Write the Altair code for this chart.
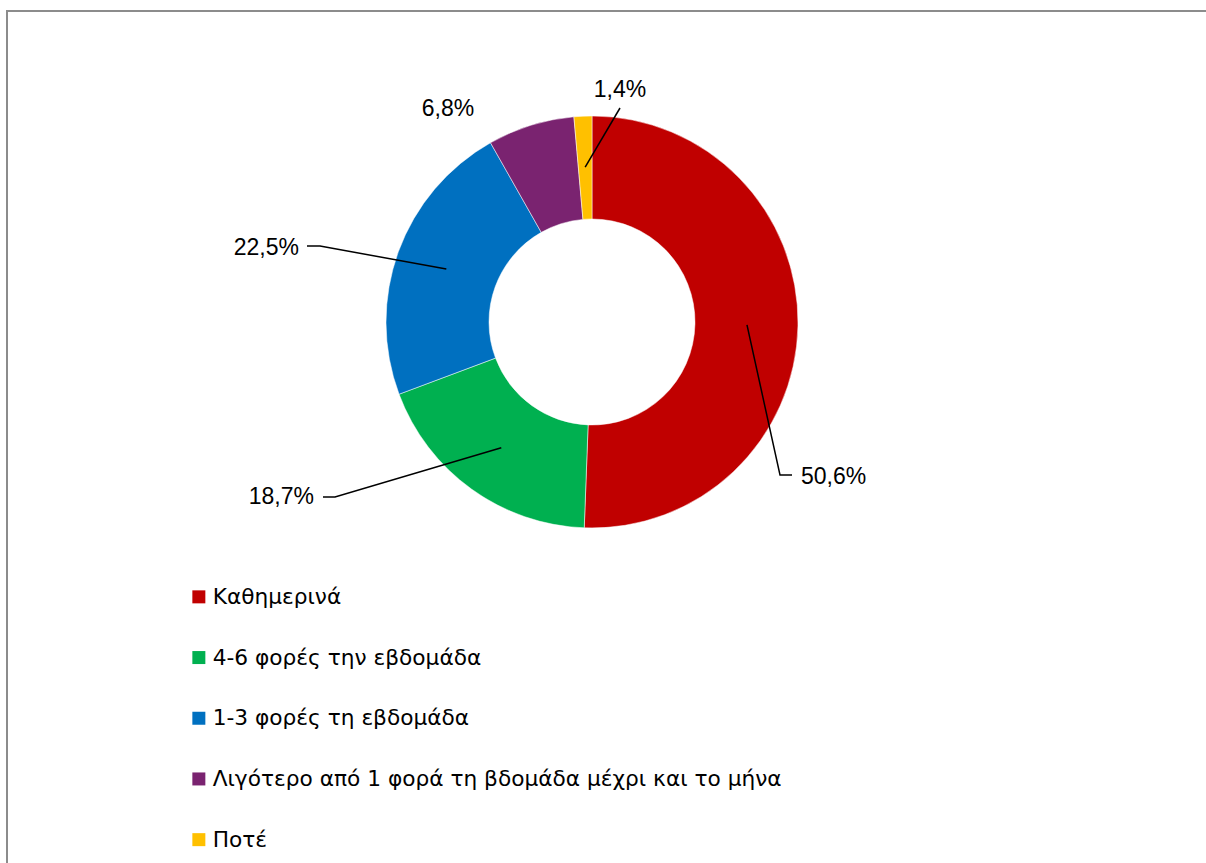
import altair as alt
import pandas as pd
import numpy as np

# ---- data ----
categories = ["Καθημερινά", "4-6 φορές την εβδομάδα", "1-3 φορές τη εβδομάδα",
              "Λιγότερο από 1 φορά τη βδομάδα μέχρι και το μήνα", "Ποτέ"]
values = [50.6, 18.7, 22.5, 6.8, 1.4]
colors = ["#C00000", "#00B050", "#0070C0", "#7A2370", "#FFC000"]

# ---- layout ----
FONT = "Liberation Sans"
LEGEND_FONT = "DejaVu Sans"
CX, CY = 592, 322
R_OUT, R_IN = 206, 103
R_LEADER = 155
label_x = [801, 314, 299, 448, 620]
label_y = [477, 497, 248, 109, 90]
label_align = ["left", "right", "right", "center", "center"]
leader_elbow = [(780, 475), (335, 497), (320, 246), None, None]
leader_end = [(792, 475), (323, 497), (307, 246), None, (620, 108)]

df = pd.DataFrame({"cat": categories, "value": values, "idx": list(range(len(values)))})
df["label"] = [f"{v:.1f}%".replace(".", ",") for v in values]
df["lx"] = label_x
df["ly"] = label_y
df["align"] = label_align

# leader lines: inner point from slice mid-angle
total = sum(values)
cum = np.cumsum([0] + values[:-1])
rows = []
for i, (c, v) in enumerate(zip(categories, values)):
    if leader_end[i] is None:
        continue
    a = 2 * np.pi * (cum[i] + v / 2) / total
    pts = [(CX + R_LEADER * np.sin(a), CY - R_LEADER * np.cos(a))]
    if leader_elbow[i] is not None:
        pts.append(leader_elbow[i])
    pts.append(leader_end[i])
    for s, (x, y) in enumerate(pts):
        rows.append({"cat": c, "seq": s, "px": x, "py": y})
lead = pd.DataFrame(rows)

border = alt.Chart(pd.DataFrame({"a": [0]})).mark_rect(
    filled=False, stroke="#8c8c8c", strokeWidth=2
).encode(x=alt.value(7), y=alt.value(11), x2=alt.value(1300), y2=alt.value(1000))

arc = alt.Chart(df).mark_arc(
    innerRadius=R_IN, outerRadius=R_OUT, stroke="#ffffff", strokeWidth=0.5
).encode(
    theta=alt.Theta("value:Q", stack=True),
    order=alt.Order("idx:Q"),
    color=alt.Color(
        "cat:N",
        scale=alt.Scale(domain=categories, range=colors),
        sort=categories,
        legend=alt.Legend(
            title=None, orient="none", legendX=188, legendY=586,
            symbolType="square", symbolSize=169, symbolStrokeWidth=0,
            labelFont=LEGEND_FONT, labelFontSize=21.7, labelColor="#000000",
            rowPadding=37.7, labelOffset=3, labelLimit=0,
        ),
    ),
    x=alt.value(CX),
    y=alt.value(CY),
)

lines = alt.Chart(lead).mark_line(color="#000000", strokeWidth=1.5).encode(
    x=alt.X("px:Q", scale=None, axis=None),
    y=alt.Y("py:Q", scale=None, axis=None),
    detail="cat:N",
    order="seq:Q",
)

texts = []
for al in ["left", "right", "center"]:
    texts.append(
        alt.Chart(df).transform_filter(alt.datum.align == al).mark_text(
            align=al, baseline="middle", font=FONT, fontSize=23, color="#000000"
        ).encode(
            x=alt.X("lx:Q", scale=None, axis=None),
            y=alt.Y("ly:Q", scale=None, axis=None),
            text="label:N",
        )
    )

chart = alt.layer(border, arc, lines, *texts).properties(
    width=1206, height=863, padding=0, autosize="none"
).configure_view(stroke=None)

chart.save("out.html", embed_options={"renderer": "svg", "actions": False})
